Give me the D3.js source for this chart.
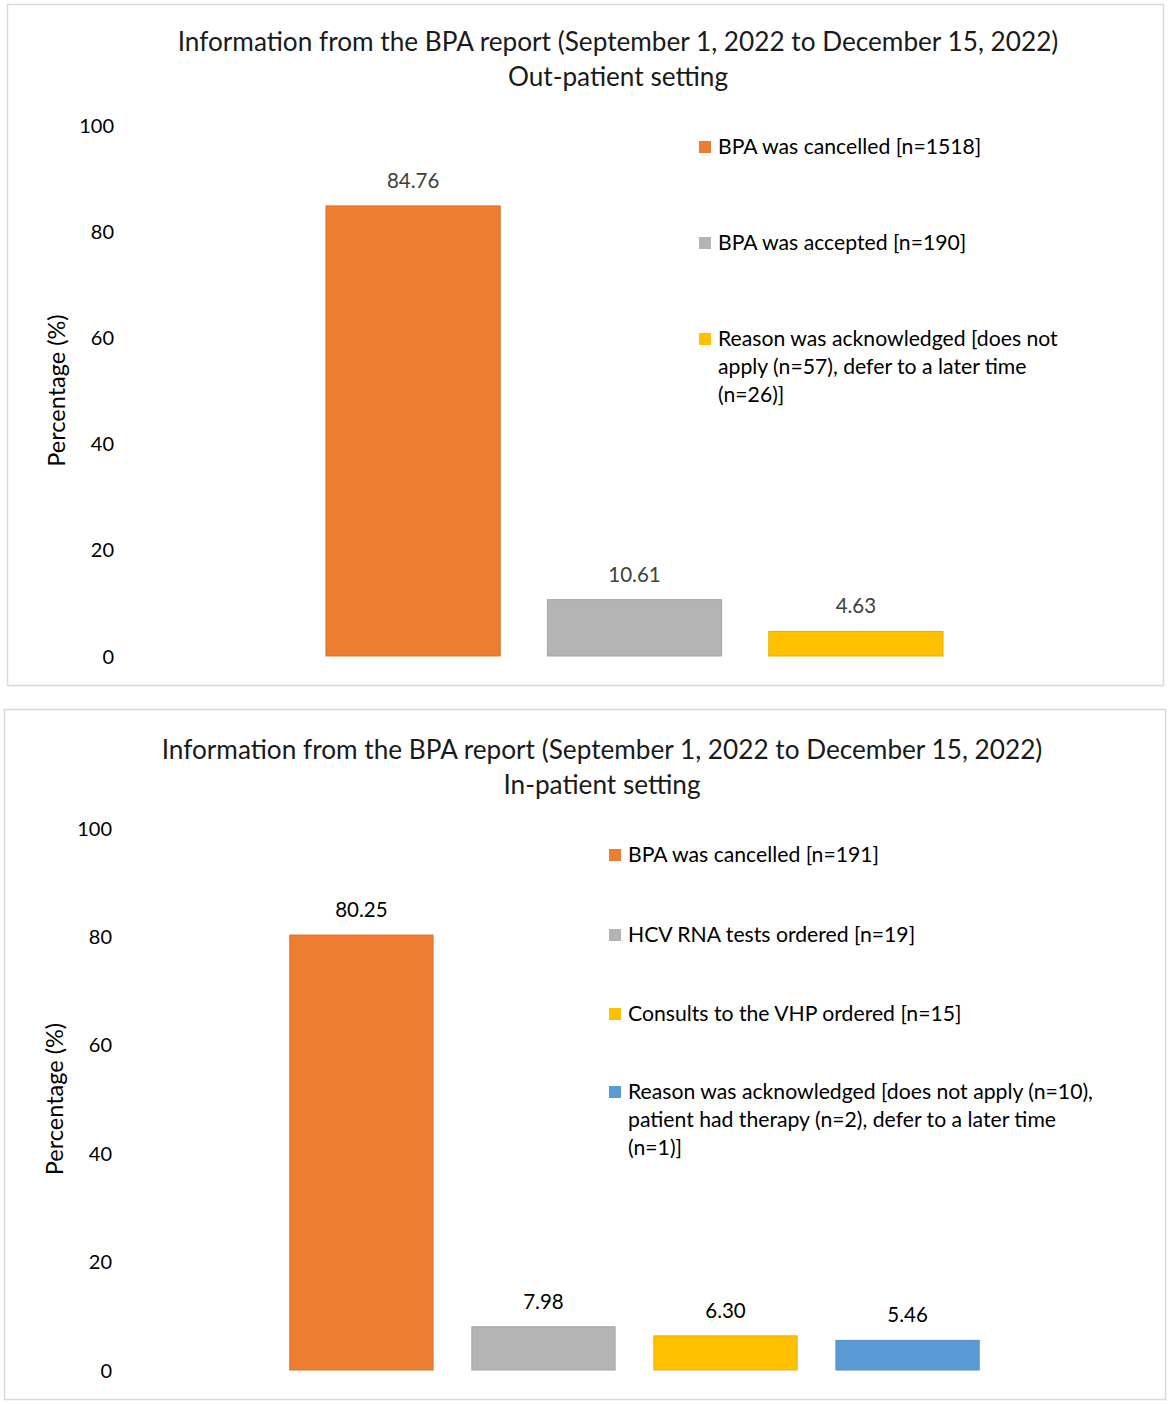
<!DOCTYPE html>
<html>
<head>
<meta charset="utf-8">
<script src="https://d3js.org/d3.v7.min.js"></script>
<style>
  html, body { margin: 0; padding: 0; background: #fff; }
  svg { display: block; }
  text { font-family: Lato, "Open Sans", sans-serif; }
</style>
</head>
<body>
<svg id="chart" width="1170" height="1404"></svg>
<script>
// ---------- DATA ----------
const titleLine1 = "Information from the BPA report (September 1, 2022 to December 15, 2022)";
const outSubtitle = "Out-patient setting";
const inSubtitle = "In-patient setting";
const yAxisLabel = "Percentage (%)";
const yTicks = [0, 20, 40, 60, 80, 100];

const outCategories = [
  ["BPA was cancelled [n=1518]"],
  ["BPA was accepted [n=190]"],
  ["Reason was acknowledged [does not", "apply (n=57), defer to a later time", "(n=26)]"]
];
const outValues = [84.76, 10.61, 4.63];
const outLabels = ["84.76", "10.61", "4.63"];
const outColors = ["#ED7D31", "#B4B4B4", "#FFC000"];

const inCategories = [
  ["BPA was cancelled [n=191]"],
  ["HCV RNA tests ordered [n=19]"],
  ["Consults to the VHP ordered [n=15]"],
  ["Reason was acknowledged [does not apply (n=10),", "patient had therapy (n=2), defer to a later time", "(n=1)]"]
];
const inValues = [80.25, 7.98, 6.30, 5.46];
const inLabels = ["80.25", "7.98", "6.30", "5.46"];
const inColors = ["#ED7D31", "#B4B4B4", "#FFC000", "#5B9BD5"];

// ---------- LAYOUT ----------
const svg = d3.select("#chart");

function panel(cfg) {
  const g = svg.append("g");
  g.append("rect")
    .attr("x", cfg.box[0] + 0.5).attr("y", cfg.box[1] + 0.5)
    .attr("width", cfg.box[2] - cfg.box[0]).attr("height", cfg.box[3] - cfg.box[1])
    .attr("fill", "#fff").attr("stroke", "#D9D9D9").attr("stroke-width", 1.5);

  g.append("text").attr("x", cfg.titleX).attr("y", cfg.titleY)
    .attr("text-anchor", "middle").attr("font-size", 26.2).attr("fill", "#1a1a1a")
    .text(titleLine1);
  g.append("text").attr("x", cfg.titleX).attr("y", cfg.titleY + 35)
    .attr("text-anchor", "middle").attr("font-size", 26.2).attr("fill", "#1a1a1a")
    .text(cfg.subtitle);

  const y = d3.scaleLinear().domain([0, 100]).range([cfg.y0, cfg.y100]);
  const idx = cfg.values.map((d, i) => i);
  const x = d3.scaleBand().domain(idx).range(cfg.xRange)
    .paddingInner(0.213).paddingOuter(0.106);

  const ax = g.append("g").attr("transform", `translate(${cfg.axisX},0)`)
    .call(d3.axisLeft(y).tickValues(yTicks).tickSize(0).tickPadding(0).tickFormat(d3.format("d")));
  ax.select(".domain").remove();
  ax.selectAll("text").attr("font-size", 20).attr("fill", "#000")
    .attr("font-family", "Lato, 'Open Sans', sans-serif").attr("dy", "0.35em");

  g.append("text")
    .attr("transform", `translate(${cfg.ylabX},${(cfg.y0 + cfg.y100) / 2 + cfg.ylabDy}) rotate(-90)`)
    .attr("text-anchor", "middle").attr("font-size", 23.5).attr("fill", "#000")
    .attr("dy", "0.35em").text(yAxisLabel);

  g.selectAll("rect.bar").data(cfg.values).enter().append("rect")
    .attr("class", "bar")
    .attr("x", (d, i) => x(i)).attr("width", x.bandwidth())
    .attr("y", d => y(d)).attr("height", d => y(0) - y(d))
    .attr("fill", (d, i) => cfg.colors[i])
    .attr("stroke", (d, i) => d3.color(cfg.colors[i]).darker(0.25))
    .attr("stroke-width", 1);

  g.selectAll("text.dl").data(cfg.values).enter().append("text")
    .attr("class", "dl")
    .attr("x", (d, i) => x(i) + x.bandwidth() / 2)
    .attr("y", d => y(d) - 18)
    .attr("text-anchor", "middle").attr("font-size", 20.5).attr("fill", cfg.labelColor)
    .text((d, i) => cfg.labels[i]);

  cfg.categories.forEach((lines, i) => {
    const ly = cfg.legendY[i];
    g.append("rect").attr("x", cfg.legendX).attr("y", ly - 6)
      .attr("width", 12).attr("height", 12).attr("fill", cfg.colors[i]);
    lines.forEach((ln, j) => {
      g.append("text").attr("x", cfg.legendX + 19).attr("y", ly + j * 28)
        .attr("dy", "0.35em").attr("font-size", 21.2).attr("fill", "#000").text(ln);
    });
  });
}

panel({
  box: [7, 4, 1163, 685],
  titleX: 618, titleY: 51,
  subtitle: outSubtitle,
  y0: 656, y100: 125,
  xRange: [302.5, 966.5],
  axisX: 114,
  ylabX: 57, ylabDy: 0,
  values: outValues, labels: outLabels, colors: outColors,
  labelColor: "#404040",
  categories: outCategories,
  legendX: 699, legendY: [147, 243, 339]
});

panel({
  box: [4, 709, 1165, 1399],
  titleX: 602, titleY: 759,
  subtitle: inSubtitle,
  y0: 1370, y100: 828,
  xRange: [270.5, 998.5],
  axisX: 112,
  ylabX: 55, ylabDy: 0,
  values: inValues, labels: inLabels, colors: inColors,
  labelColor: "#000",
  categories: inCategories,
  legendX: 609, legendY: [855, 935, 1014, 1092]
});
</script>
</body>
</html>
